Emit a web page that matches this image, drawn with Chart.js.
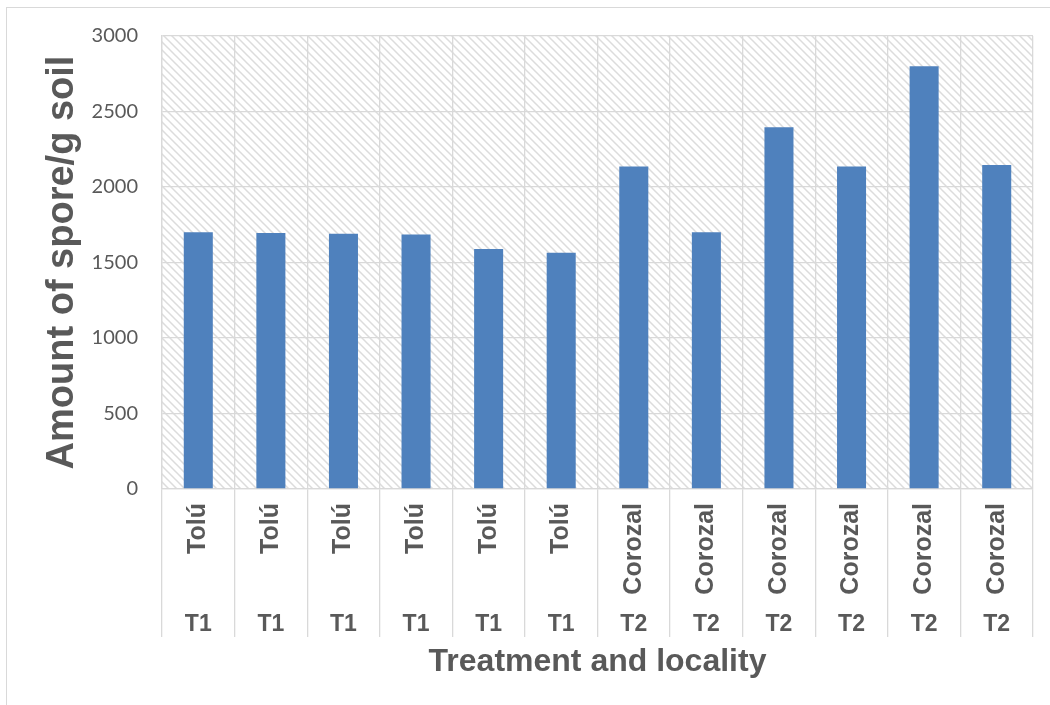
<!DOCTYPE html>
<html>
<head>
<meta charset="utf-8">
<script src="https://cdn.jsdelivr.net/npm/chart.js@4.4.1/dist/chart.umd.min.js"></script>
<style>
    html, body { margin: 0; padding: 0; background: #ffffff; overflow: hidden; }
    #frame { position: absolute; left: 6px; top: 7px; width: 2000px; height: 2000px; border: 1px solid #d9d9d9; pointer-events: none; }
    #wrap { position: absolute; left: 0; top: 0; width: 1050px; height: 705px; }
</style>
</head>
<body>
<div id="frame"></div>
<div id="wrap"><canvas id="sporeChart" width="1050" height="705"></canvas></div>
<script>
const ctx = document.getElementById('sporeChart').getContext('2d');

let localidad = ['Tolú', 'Tolú', 'Tolú', 'Tolú', 'Tolú', 'Tolú',
    'Corozal', 'Corozal', 'Corozal', 'Corozal', 'Corozal', 'Corozal'];
let tratamiento = ['T1', 'T1', 'T1', 'T1', 'T1', 'T1',
    'T2', 'T2', 'T2', 'T2', 'T2', 'T2'];
let esporas = [1700, 1695, 1690, 1685, 1590, 1565, 2135, 1700, 2395, 2135, 2800, 2145];
let yTicks = [0, 500, 1000, 1500, 2000, 2500, 3000];

const gris = '#595959';
const lineas = '#d9d9d9';

// trama diagonal del fondo del area de trazado
function hatchPattern() {
    const c = document.createElement('canvas');
    c.width = 8;
    c.height = 8;
    const p = c.getContext('2d');
    p.fillStyle = '#ffffff';
    p.fillRect(0, 0, 8, 8);
    p.strokeStyle = '#dcdcdc';
    p.lineWidth = 1.5;
    p.beginPath();
    p.moveTo(-2, -2); p.lineTo(10, 10);
    p.moveTo(-2, 6); p.lineTo(2, 10);
    p.moveTo(6, -2); p.lineTo(10, 2);
    p.stroke();
    return ctx.createPattern(c, 'repeat');
}
const trama = hatchPattern();

Chart.register({
    id: 'plotBackground',
    beforeDraw: (chart) => {
        const a = chart.chartArea;
        chart.ctx.save();
        chart.ctx.fillStyle = trama;
        chart.ctx.fillRect(a.left, a.top, a.right - a.left, a.bottom - a.top);
        chart.ctx.restore();
    }
});

const chart = new Chart(ctx, {
    type: 'bar',
    data: {
        labels: localidad,
        datasets: [{
            label: 'Amount of spore/g soil',
            data: esporas,
            backgroundColor: '#4f81bd',
            borderWidth: 0,
            barPercentage: 0.4,
            categoryPercentage: 1.0,
            xAxisID: 'x',
            yAxisID: 'y'
        }]
    },
    options: {
        responsive: false,
        animation: false,
        layout: {
            padding: { left: 36, right: 17, top: 36, bottom: 20 }
        },
        plugins: {
            legend: { display: false },
            tooltip: { enabled: false }
        },
        scales: {
            x: {
                type: 'category',
                position: 'bottom',
                offset: true,
                grid: { offset: true, color: lineas, lineWidth: 1.3, tickLength: 118 },
                border: { color: lineas, width: 1.3 },
                ticks: {
                    autoSkip: false,
                    minRotation: 90,
                    maxRotation: 90,
                    padding: -104,
                    color: gris,
                    font: { family: '"Liberation Sans", Arial, sans-serif', size: 25, weight: 'bold' }
                },
                afterFit: (scale) => { scale.height = 118; }
            },
            x2: {
                type: 'category',
                labels: tratamiento,
                position: 'bottom',
                offset: true,
                grid: { offset: true, drawOnChartArea: false, color: lineas, lineWidth: 1.3, tickLength: 30 },
                border: { display: false },
                ticks: {
                    autoSkip: false,
                    maxRotation: 0,
                    padding: -26,
                    color: gris,
                    font: { family: '"Liberation Sans", Arial, sans-serif', size: 23, weight: 'bold' }
                },
                title: {
                    display: true,
                    text: 'Treatment and locality',
                    color: gris,
                    font: { family: '"Liberation Sans", Arial, sans-serif', size: 32, weight: 'bold' }
                },
                afterFit: (scale) => { scale.height = 78; }
            },
            y: {
                min: 0,
                max: 3000,
                afterBuildTicks: (scale) => { scale.ticks = yTicks.map(v => ({ value: v })); },
                grid: { color: lineas, lineWidth: 1.3, drawTicks: false },
                border: { color: lineas, width: 1.3 },
                ticks: {
                    padding: 24,
                    color: gris,
                    font: { family: 'Lato, "Open Sans", sans-serif', size: 20 },
                    callback: (v) => String(v)
                },
                title: {
                    display: true,
                    text: 'Amount of spore/g soil',
                    color: gris,
                    font: { family: '"Liberation Sans", Arial, sans-serif', size: 38, weight: 'bold' }
                },
                afterFit: (scale) => { scale.width = 126; }
            }
        }
    }
});
</script>
</body>
</html>
